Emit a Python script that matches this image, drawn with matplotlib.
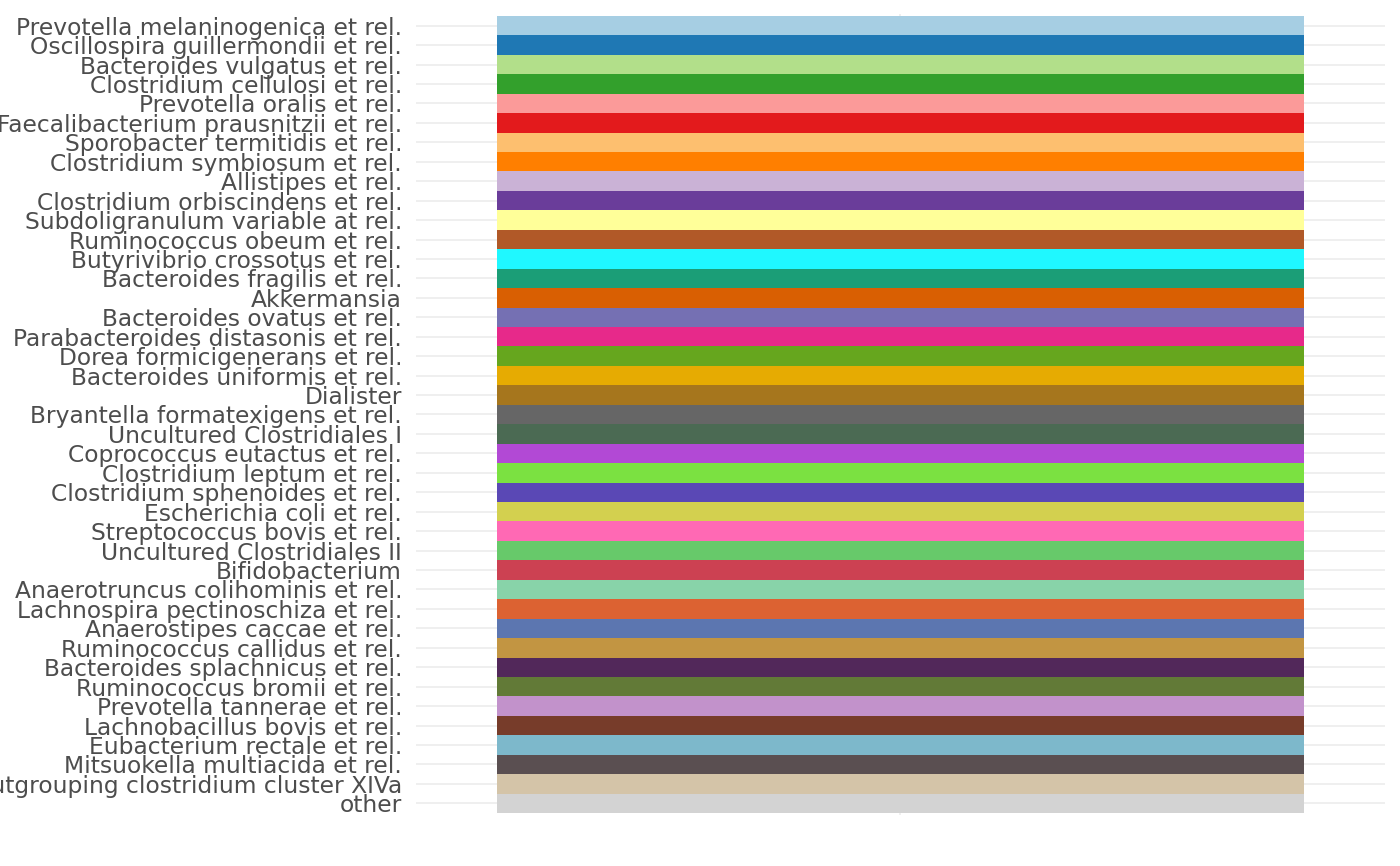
import matplotlib
matplotlib.use("Agg")
import matplotlib.pyplot as plt

# taxa, top to bottom
taxa = [
    "Prevotella melaninogenica et rel.",
    "Oscillospira guillermondii et rel.",
    "Bacteroides vulgatus et rel.",
    "Clostridium cellulosi et rel.",
    "Prevotella oralis et rel.",
    "Faecalibacterium prausnitzii et rel.",
    "Sporobacter termitidis et rel.",
    "Clostridium symbiosum et rel.",
    "Allistipes et rel.",
    "Clostridium orbiscindens et rel.",
    "Subdoligranulum variable at rel.",
    "Ruminococcus obeum et rel.",
    "Butyrivibrio crossotus et rel.",
    "Bacteroides fragilis et rel.",
    "Akkermansia",
    "Bacteroides ovatus et rel.",
    "Parabacteroides distasonis et rel.",
    "Dorea formicigenerans et rel.",
    "Bacteroides uniformis et rel.",
    "Dialister",
    "Bryantella formatexigens et rel.",
    "Uncultured Clostridiales I",
    "Coprococcus eutactus et rel.",
    "Clostridium leptum et rel.",
    "Clostridium sphenoides et rel.",
    "Escherichia coli et rel.",
    "Streptococcus bovis et rel.",
    "Uncultured Clostridiales II",
    "Bifidobacterium",
    "Anaerotruncus colihominis et rel.",
    "Lachnospira pectinoschiza et rel.",
    "Anaerostipes caccae et rel.",
    "Ruminococcus callidus et rel.",
    "Bacteroides splachnicus et rel.",
    "Ruminococcus bromii et rel.",
    "Prevotella tannerae et rel.",
    "Lachnobacillus bovis et rel.",
    "Eubacterium rectale et rel.",
    "Mitsuokella multiacida et rel.",
    "Outgrouping clostridium cluster XIVa",
    "other",
]

colors = [
    "#a6cee3", "#1f78b4", "#b2df8a", "#33a02c", "#fb9a99", "#e31a1c",
    "#fdbf6f", "#ff7f00", "#cab2d6", "#6a3d9a", "#ffff99", "#b15928",
    "#1ff8ff", "#1b9e77", "#d95f02", "#7570b3", "#e7298a", "#66a61e",
    "#e6ab02", "#a6761d", "#666666", "#4b6a53", "#b249d5", "#7be141",
    "#5a48b5", "#d3d04f", "#ff69b4", "#67c96a", "#cc4152", "#88d3a9",
    "#dc6232", "#5c76b0", "#c29542", "#52285a", "#627a37", "#c292cb",
    "#773c2a", "#7db8cb", "#5a4f51", "#d4c4a8", "#d3d3d3",
]

n = len(taxa)
ypos = list(range(n))

fig = plt.figure(figsize=(14, 8.66), dpi=100)
ax = fig.add_axes([416 / 1400, 51 / 866, 969 / 1400, 801 / 866])

ax.barh(ypos, [1] * n, left=0.5, height=1.0, color=colors, zorder=2)

ax.set_xlim(0.4, 1.6)
ax.set_ylim(n - 0.4, -0.6)
ax.set_yticks(ypos)
ax.set_yticklabels(taxa)
ax.set_xticks([1.0])
ax.set_xticklabels([])

ax.grid(True, color="#ebebeb", linewidth=1.1, zorder=0)
ax.set_axisbelow(True)
ax.tick_params(length=0, pad=10, labelsize=16.8, labelcolor="#4d4d4d")
for s in ax.spines.values():
    s.set_visible(False)

fig.savefig("out.png", dpi=100)
